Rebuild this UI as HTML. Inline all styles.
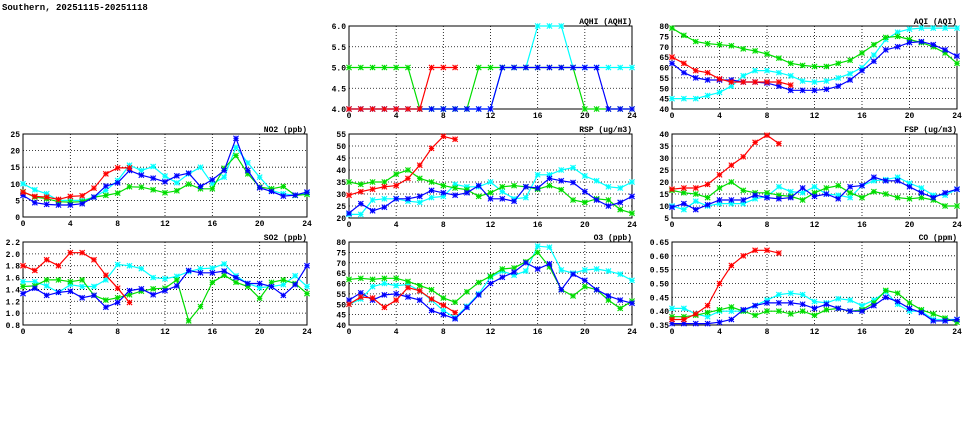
<!DOCTYPE html>
<html><head><meta charset="utf-8"><style>
body{margin:0;background:#fff;width:975px;height:447px;overflow:hidden}
svg{display:block}
text{font-family:"Liberation Mono",monospace;font-weight:bold;font-size:8px;fill:#000}
</style></head><body>
<svg id="chart" width="975" height="447" viewBox="0 0 975 447">
<text x="2" y="10" style="font-size:9px">Southern, 20251115-20251118</text>
</svg>
<script>
const hours = [0,1,2,3,4,5,6,7,8,9,10,11,12,13,14,15,16,17,18,19,20,21,22,23,24];
const xTicks = [0,4,8,12,16,20,24];
const seriesNames = ["cyan","green","blue","red"];
const seriesColors = ["#00ffff","#00dd00","#0000ff","#ff0000"];

const aqhiTicks=[4.0,4.5,5.0,5.5,6.0];
const aqhiCyan=[4,4,4,4,4,4,4,4,4,4,4,4,4,5,5,5,6,6,6,5,5,5,5,5,5];
const aqhiGreen=[5,5,5,5,5,5,4,4,4,4,4,5,5,5,5,5,5,5,5,5,4,4,4,4,4];
const aqhiBlue=[4,4,4,4,4,4,4,4,4,4,4,4,4,5,5,5,5,5,5,5,5,5,4,4,4];
const aqhiRed=[4,4,4,4,4,4,4,5,5,5];

const aqiTicks=[40,45,50,55,60,65,70,75,80];
const aqiCyan=[45,45,45,46.5,48,51,56,58.5,58.5,57.5,56,53.5,53,53.5,55,57,60,66,73.5,77,78.5,79,79,79,79];
const aqiGreen=[79,75.5,72.5,71.5,71,70.5,69,68,66.5,64.5,62,61,60.5,60.5,62,63.5,67,71,74.5,75,73.5,72,70,67,62];
const aqiBlue=[62,57.5,55,54,54,54,53,53,52.5,51,49,49,49,49.5,51,54,58.5,63,68.5,70,72,72.5,71,68.5,65.5];
const aqiRed=[65,62,58.5,57.5,54.5,53,53,53,53,53,51.5];

const no2Ticks=[0,5,10,15,20,25];
const no2Cyan=[10,8.2,7,5,5,5,6,8,11,15.6,14,15.2,12.3,10.3,13,15,10,12,21,16.3,12,8,7,6.5,7.3];
const no2Green=[7.6,6,5.5,4.6,4.5,4.6,6,6.5,7.2,9.1,9,8.2,7.3,7.9,9.9,8.5,8.5,14.7,18.5,13,9,8.5,9.2,6.5,6.8];
const no2Blue=[6.5,4.3,3.8,3.6,3.6,4,6,9.3,10.3,14,12.6,11.7,10.6,12.4,13.2,9.2,11.2,14,23.7,14,8.8,7.7,6.3,6.6,7.5];
const no2Red=[7.5,6.2,6,5.3,6.2,6.4,8.7,13,14.8,14.8];

const rspTicks=[20,25,30,35,40,45,50,55];
const rspCyan=[21.5,21.5,27.5,28,28,27,26.5,28.5,29,34,33,33,35,31,28,28.5,38,38,40,41,37.5,35.5,33,32.5,35];
const rspGreen=[35,34,35,35,38.3,40,36.5,35,33.5,32.5,31.8,29,30.5,33,33.5,33,32,33.5,31.8,27.5,26.5,28,27.5,23.5,22];
const rspBlue=[22,26,23,24.5,28,28,29,31.5,30.5,29.5,30.5,33.5,28,28,27,33,32.5,36.5,35.5,34.8,31,27.5,25,26.5,29];
const rspRed=[29.5,31,32,33,33.5,36.5,42,49,54,52.8];

const fspTicks=[5,10,15,20,25,30,35,40];
const fspCyan=[10,8.5,12,10,11,11,11,13,14,18,16,15.5,18,15,14.5,13.5,18.5,20.5,21,22,19.5,17.5,14.5,14.5,17];
const fspGreen=[16.5,15.5,15,13.5,17.5,20,16.5,15.5,15.5,14.5,14,12.5,15.5,17.5,18.5,15.5,13.5,16,15,13.5,13,13.5,12.5,10,10];
const fspBlue=[9.5,11,8.5,10.5,12.5,12.5,12.5,14.5,13.5,13,13.5,17.5,14,15,13,18,18.5,22,20.5,20.5,18,15.5,13.5,15.5,17];
const fspRed=[17,17.5,17.5,19,23,27,30.5,36.5,39.5,36];

const so2Ticks=[0.8,1.0,1.2,1.4,1.6,1.8,2.0,2.2];
const so2Cyan=[1.53,1.53,1.46,1.35,1.48,1.45,1.45,1.56,1.82,1.8,1.75,1.6,1.58,1.62,1.7,1.75,1.76,1.83,1.63,1.5,1.43,1.45,1.48,1.63,1.45];
const so2Green=[1.45,1.46,1.56,1.56,1.53,1.56,1.3,1.22,1.26,1.31,1.37,1.41,1.42,1.56,0.87,1.11,1.52,1.64,1.52,1.45,1.25,1.52,1.56,1.5,1.33];
const so2Blue=[1.33,1.42,1.3,1.35,1.37,1.26,1.3,1.1,1.18,1.38,1.41,1.31,1.38,1.46,1.72,1.68,1.68,1.71,1.6,1.5,1.5,1.45,1.3,1.48,1.8];
const so2Red=[1.8,1.72,1.9,1.8,2.02,2.02,1.9,1.64,1.42,1.18];

const o3Ticks=[40,45,50,55,60,65,70,75,80];
const o3Cyan=[50,52.5,58.5,60,59,59.5,56.5,52,47,43.5,49,55,63,66,64,66,78,77.5,66.5,65,66.5,67,66,64.5,61.5];
const o3Green=[62,62.5,62,62.5,62.5,61,59,57,53,51,56,60.5,63.5,67,67.5,70.5,75,68,57,54,58.5,57,52,48,51.5];
const o3Blue=[52,55.5,52,54.5,55,53.5,52,47,45,43,48.5,54.5,60,63,65.5,70,67,69.5,57,64.5,61.5,57,54,52,50.5];
const o3Red=[50,53.5,53,48.5,52,58,56.5,52.5,49.5,46];

const coTicks=[0.35,0.40,0.45,0.50,0.55,0.60,0.65];
const coCyan=[.41,.41,.39,.38,.40,.40,.40,.42,.44,.46,.465,.46,.435,.43,.445,.44,.42,.44,.47,.425,.40,.40,.37,.37,.37];
const coGreen=[.38,.38,.385,.395,.405,.415,.40,.385,.40,.40,.39,.40,.385,.405,.41,.40,.405,.43,.475,.465,.43,.405,.39,.375,.36];
const coBlue=[.355,.355,.355,.355,.36,.37,.405,.42,.43,.43,.43,.425,.41,.425,.41,.40,.40,.42,.45,.435,.41,.395,.365,.365,.37];
const coRed=[.37,.37,.39,.42,.50,.565,.60,.62,.62,.61];

const NS="http://www.w3.org/2000/svg";
const svg=document.getElementById('chart');
function mk(tag,attrs,parent){const e=document.createElementNS(NS,tag);for(const k in attrs)e.setAttribute(k,attrs[k]);(parent||svg).appendChild(e);return e;}

const panels=[
 {id:"aqhi",title:"AQHI (AQHI)",L:349,R:632,T:26,B:109,ticks:aqhiTicks,dec:1,data:[aqhiCyan,aqhiGreen,aqhiBlue,aqhiRed]},
 {id:"aqi",title:"AQI (AQI)",L:672,R:957,T:26,B:109,ticks:aqiTicks,dec:0,data:[aqiCyan,aqiGreen,aqiBlue,aqiRed]},
 {id:"no2",title:"NO2 (ppb)",L:23,R:307,T:134,B:217,ticks:no2Ticks,dec:0,data:[no2Cyan,no2Green,no2Blue,no2Red]},
 {id:"rsp",title:"RSP (ug/m3)",L:349,R:632,T:134,B:218,ticks:rspTicks,dec:0,data:[rspCyan,rspGreen,rspBlue,rspRed]},
 {id:"fsp",title:"FSP (ug/m3)",L:672,R:957,T:134,B:218,ticks:fspTicks,dec:0,data:[fspCyan,fspGreen,fspBlue,fspRed]},
 {id:"so2",title:"SO2 (ppb)",L:23,R:307,T:242,B:325,ticks:so2Ticks,dec:1,data:[so2Cyan,so2Green,so2Blue,so2Red]},
 {id:"o3",title:"O3 (ppb)",L:349,R:632,T:242,B:325,ticks:o3Ticks,dec:0,data:[o3Cyan,o3Green,o3Blue,o3Red]},
 {id:"co",title:"CO (ppm)",L:672,R:957,T:242,B:325,ticks:coTicks,dec:2,data:[coCyan,coGreen,coBlue,coRed]}
];

panels.forEach(p=>{
 const g=mk('g',{});
 
 
 const ymin=p.ticks[0],ymax=p.ticks[p.ticks.length-1];
 const xs=h=>p.L+(h-0)/(24)*(p.R-p.L);
 const ys=v=>p.B-(v-ymin)/(ymax-ymin)*(p.B-p.T);
 p.ticks.forEach(t=>{
  const y=ys(t);
  const l=mk('line',{x1:p.L,x2:p.R,y1:y,y2:y,stroke:'#000','stroke-width':0.8,'stroke-dasharray':'1,2'},g);
  
  
  const tx=mk('text',{x:p.L-3,y:y+3,'text-anchor':'end'},g);
  tx.textContent=t.toFixed(p.dec);
  
  
 });
 xTicks.forEach(t=>{
  const x=xs(t);
  const l=mk('line',{x1:x,x2:x,y1:p.T,y2:p.B,stroke:'#000','stroke-width':0.8,'stroke-dasharray':'1,2'},g);
  
  
  const tx=mk('text',{x:x,y:p.B+9,'text-anchor':'middle'},g);
  tx.textContent=String(t);
  
  
 });
 const fr=mk('rect',{x:p.L,y:p.T,width:p.R-p.L,height:p.B-p.T,fill:'none',stroke:'#000','stroke-width':1},g);
 
 
 const tt=mk('text',{x:p.R,y:p.T-2,'text-anchor':'end'},g);
 tt.textContent=p.title;
 
 
 p.data.forEach((arr,si)=>{
  const c=seriesColors[si];
  const sg=mk('g',{},g);
  
  
  const pts=arr.map((v,i)=>xs(hours[i]).toFixed(1)+','+ys(v).toFixed(1)).join(' ');
  const pl=mk('polyline',{points:pts,fill:'none',stroke:c,'stroke-width':1.2},sg);
  
  
  arr.forEach((v,i)=>{
   const x=xs(hours[i]),y=ys(v),s=2.6;
   const m=mk('path',{d:`M${x-s},${y-s}L${x+s},${y+s}M${x-s},${y+s}L${x+s},${y-s}M${x-s},${y}L${x+s},${y}M${x},${y-s}L${x},${y+s}`,stroke:c,'stroke-width':1.1,fill:'none'},sg);
   
   
  });
 });
});
</script>
</body></html>
